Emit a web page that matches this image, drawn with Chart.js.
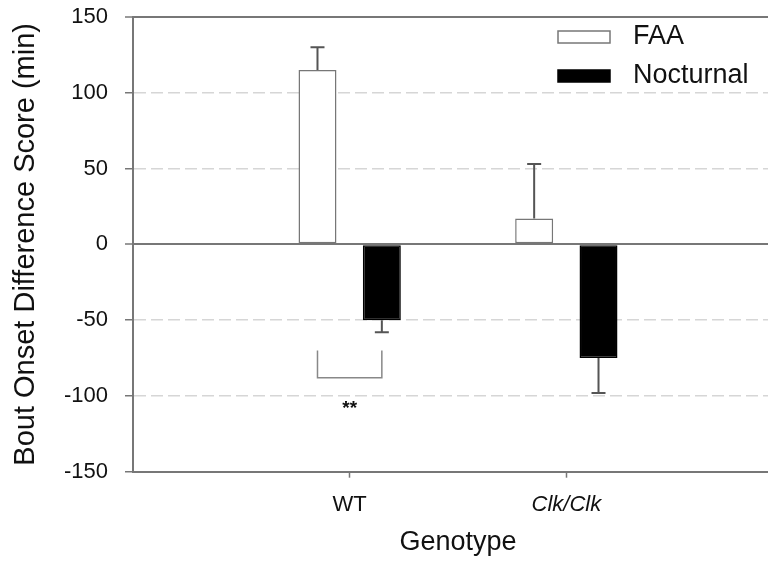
<!DOCTYPE html>
<html>
<head>
<meta charset="utf-8">
<script src="https://cdn.jsdelivr.net/npm/chart.js@4/dist/chart.umd.min.js"></script>
<style>
  html, body { margin: 0; padding: 0; background: #fff; overflow: hidden; }
  #wrap { width: 800px; height: 564px; }
</style>
</head>
<body>
<div id="wrap"><canvas id="graph" width="800" height="564"></canvas></div>
<script>
// Catégories (les deux vides servent de marge de chaque côté)
const genotypes = ["", "WT", "Clk/Clk", ""];
// Moyennes et erreurs
const faaMean = [null, 115, 17, null];
const faaSem = [null, 15, 36, null];
const nocMean = [null, -50, -75, null];
const nocSem = [null, 8, 23, null];
// Axe Y
const yMin = -150;
const yMax = 150;
const yStep = 50;
const solidLines = [150, 0];
// Crochet de significativité sous WT
const bracketCategory = 1;
const bracketY = [-70, -88];
const starY = -106;
const starText = "**";

const FONT = "'Liberation Sans', Arial, sans-serif";
const AXIS_GREY = "#777";

// Barres d'erreur (une seule moustache, dans le sens de la barre)
const errorBars = {
    id: "errorBars",
    afterDatasetsDraw(chart) {
        const ctx = chart.ctx;
        const y = chart.scales.y;
        const sems = [faaSem, nocSem];
        chart.data.datasets.forEach((ds, i) => {
            const meta = chart.getDatasetMeta(i);
            meta.data.forEach((bar, j) => {
                const mean = ds.data[j];
                if (mean === null) return;
                const end = mean + Math.sign(mean) * sems[i][j];
                const y1 = y.getPixelForValue(mean);
                const y2 = y.getPixelForValue(end);
                ctx.save();
                ctx.strokeStyle = "#555";
                ctx.lineWidth = 2;
                ctx.beginPath();
                ctx.moveTo(bar.x, y1);
                ctx.lineTo(bar.x, y2);
                ctx.moveTo(bar.x - 7, y2);
                ctx.lineTo(bar.x + 7, y2);
                ctx.stroke();
                ctx.restore();
            });
        });
    }
};

// Crochet + étoiles, légende à droite en haut
const annotations = {
    id: "annotations",
    afterDraw(chart) {
        const ctx = chart.ctx;
        const y = chart.scales.y;
        const xa = chart.getDatasetMeta(0).data[bracketCategory].x;
        const xb = chart.getDatasetMeta(1).data[bracketCategory].x;
        const yt = y.getPixelForValue(bracketY[0]);
        const yb = y.getPixelForValue(bracketY[1]);
        ctx.save();
        ctx.strokeStyle = "#888";
        ctx.lineWidth = 1.5;
        ctx.beginPath();
        ctx.moveTo(xa, yt);
        ctx.lineTo(xa, yb);
        ctx.lineTo(xb, yb);
        ctx.lineTo(xb, yt);
        ctx.stroke();
        ctx.fillStyle = "#111";
        ctx.font = "bold 19px " + FONT;
        ctx.textAlign = "center";
        ctx.textBaseline = "middle";
        ctx.fillText(starText, (xa + xb) / 2, y.getPixelForValue(starY) + 4);

        // légende
        const rows = [37, 76];
        chart.data.datasets.forEach((ds, i) => {
            const cy = rows[i];
            ctx.fillStyle = ds.backgroundColor;
            ctx.strokeStyle = ds.borderColor;
            ctx.lineWidth = 1.5;
            ctx.fillRect(558, cy - 6, 52, 12);
            ctx.strokeRect(558, cy - 6, 52, 12);
            ctx.fillStyle = "#111";
            ctx.font = "27px " + FONT;
            ctx.textAlign = "left";
            ctx.textBaseline = "middle";
            ctx.fillText(ds.label, 633, cy);
        });
        ctx.restore();
    }
};

const config = {
    type: "bar",
    data: {
        labels: genotypes,
        datasets: [
            {
                label: "FAA",
                data: faaMean,
                backgroundColor: "#ffffff",
                borderColor: AXIS_GREY,
                borderWidth: 1.5,
                borderSkipped: false
            },
            {
                label: "Nocturnal",
                data: nocMean,
                backgroundColor: "#000000",
                borderColor: "#000000",
                borderWidth: 1.5,
                borderSkipped: false
            }
        ]
    },
    options: {
        responsive: false,
        animation: false,
        categoryPercentage: 0.594,
        barPercentage: 0.59,
        layout: { padding: { left: 0, right: 17, top: 17, bottom: 0 } },
        plugins: {
            legend: { display: false },
            tooltip: { enabled: false }
        },
        scales: {
            x: {
                offset: false,
                afterFit: (scale) => { scale.height = 92.3; },
                grid: {
                    offset: false,
                    drawOnChartArea: false,
                    drawTicks: true,
                    tickLength: 6,
                    tickWidth: 1.5,
                    tickColor: (c) => (c.tick && c.tick.label ? AXIS_GREY : "rgba(0,0,0,0)")
                },
                border: { display: true, color: AXIS_GREY, width: 2 },
                ticks: {
                    color: "#111",
                    padding: 14,
                    maxRotation: 0,
                    autoSkip: false,
                    font: (c) => ({
                        family: FONT,
                        size: 22,
                        style: c.tick && c.tick.label === "Clk/Clk" ? "italic" : "normal"
                    })
                },
                title: {
                    display: true,
                    text: "Genotype",
                    color: "#111",
                    font: { family: FONT, size: 27 },
                    padding: { top: 0, bottom: 5 }
                }
            },
            y: {
                min: yMin,
                max: yMax,
                afterFit: (scale) => {
                    scale.width = 133;
                    scale.paddingTop = 10;
                    scale.paddingBottom = 10;
                },
                grid: {
                    color: (c) => {
                        if (!c.tick) return "#d6d6d6";
                        if (c.tick.value === yMin) return "rgba(0,0,0,0)";
                        return solidLines.includes(c.tick.value) ? AXIS_GREY : "#d6d6d6";
                    },
                    lineWidth: (c) => (c.tick && solidLines.includes(c.tick.value) ? 2 : 1.5),
                    tickColor: AXIS_GREY,
                    tickWidth: 1.5,
                    tickLength: 8
                },
                border: {
                    display: true,
                    color: AXIS_GREY,
                    width: 2,
                    dash: (c) => (c.tick && !solidLines.includes(c.tick.value) ? [12, 5] : [])
                },
                ticks: {
                    stepSize: yStep,
                    color: "#111",
                    padding: 17,
                    font: { family: FONT, size: 22 }
                },
                title: {
                    display: true,
                    text: "Bout Onset Difference Score (min)",
                    color: "#111",
                    font: { family: FONT, size: 29 },
                    padding: { top: 9, bottom: 0 }
                }
            }
        }
    },
    plugins: [errorBars, annotations]
};

const graphique = new Chart(document.querySelector("#graph"), config);
</script>
</body>
</html>
